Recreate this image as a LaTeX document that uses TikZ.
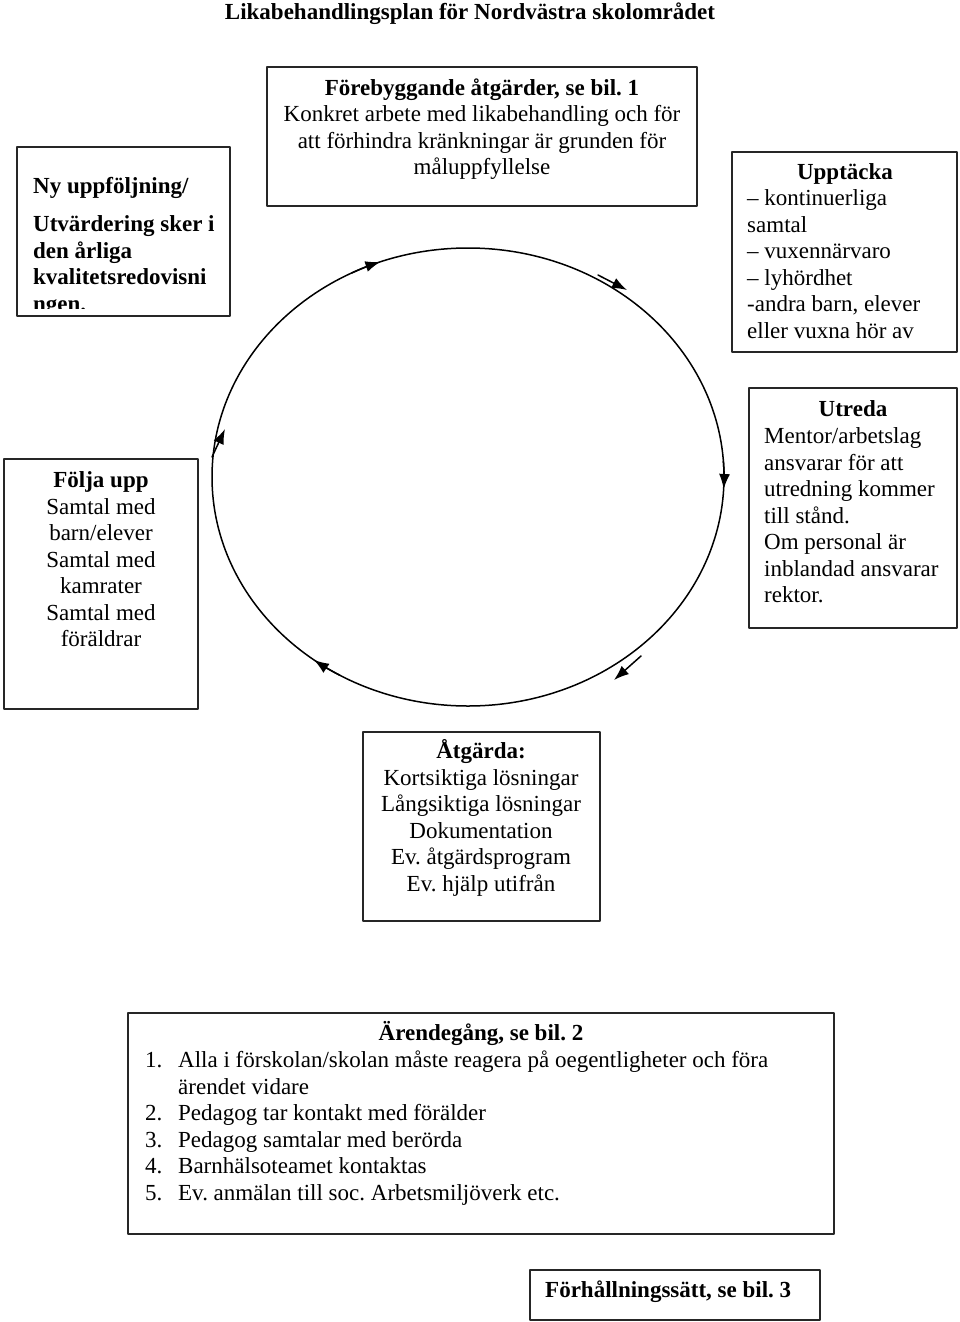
\documentclass[tikz,border=0pt]{standalone}
\usepackage{fontspec}
\setmainfont{Liberation Serif}
\usetikzlibrary{arrows.meta}
\frenchspacing
\begin{document}
\begin{tikzpicture}[x=1pt, y=-1pt, >={Latex[length=15pt,width=11pt]}, font=\fontsize{23}{26.5}\selectfont, line join=round, line cap=round,
	box/.style={draw=black!85, line width=1.6pt},
	ring/.style={line width=1.5pt},
	txt/.style={inner sep=0pt, anchor=base},
	txtl/.style={inner sep=0pt, anchor=base west, align=left},
	fet/.style={font=\fontsize{23}{26.5}\selectfont\bfseries}]
	\useasboundingbox (0,0) rectangle (960,1322);
	\path%hörn av rutorna
	(267,67) coordinate (F1) (697,206) coordinate (F2)
	(17,147) coordinate (N1) (230,316) coordinate (N2)
	(732,152) coordinate (U1) (957,352) coordinate (U2)
	(749,388) coordinate (T1) (957,628) coordinate (T2)
	(4,459) coordinate (S1) (198,709) coordinate (S2)
	(363,732) coordinate (A1) (600,921) coordinate (A2)
	(128,1013) coordinate (E1) (834,1234) coordinate (E2)
	(530,1270) coordinate (H1) (820,1320) coordinate (H2)
	(468,477) coordinate (M)
	(598,275) coordinate (P1) (627,290) coordinate (P2)
	(641,656) coordinate (Q1) (614,680) coordinate (Q2)
	(212,457) coordinate (R1) (225,429) coordinate (R2)
	;
	\foreach \a/\b in {F1/F2,N1/N2,U1/U2,T1/T2,S1/S2,A1/A2,E1/E2,H1/H2}\draw[box] (\a) rectangle (\b);
	% cirkeln med pilar
	\draw[ring] (M) ellipse [x radius=256pt, y radius=229pt];
	\foreach \g in {117,4,-120}\draw[ring,->] (M) ++(\g:256pt and 229pt) arc[start angle=\g, delta angle=-7, x radius=256pt, y radius=229pt];
	\draw[ring,->] (P1)--(P2);
	\draw[ring,->] (Q1)--(Q2);
	\draw[ring,->] (R1)--(R2);
	% texter (base = sista radens baslinje)
	\node[txt,fet] (rubrik) at (470,19.5) {Likabehandlingsplan för Nordvästra skolområdet};
	\node[txt,align=center] (forebygg) at (482,174.5) {\textbf{Förebyggande åtgärder, se bil. 1}\\Konkret arbete med likabehandling och för\\att förhindra kränkningar är grunden för\\måluppfyllelse};
	\begin{scope}
		\clip (17,147) rectangle (230,308);
		\node[txtl,fet] (nyupp) at (33,311) {Ny uppföljning/\\[12pt]Utvärdering sker i\\den årliga\\kvalitetsredovisni\\ngen.};
	\end{scope}
	\node[txt,fet] (upptacka) at (845,179.5) {Upptäcka};
	\node[txtl] (upptackatxt) at (747,338) {– kontinuerliga\\samtal\\– vuxennärvaro\\– lyhördhet\\-andra barn, elever\\eller vuxna hör av};
	\node[txt,fet] (utreda) at (853,416.5) {Utreda};
	\node[txtl] (utredatxt) at (764,602.5) {Mentor/arbetslag\\ansvarar för att\\utredning kommer\\till stånd.\\Om personal är\\inblandad ansvarar\\rektor.};
	\node[txt,align=center] (folja) at (101,646.5) {\textbf{Följa upp}\\Samtal med\\barn/elever\\Samtal med\\kamrater\\Samtal med\\föräldrar};
	\node[txt,align=center] (atgarda) at (481,891) {\textbf{Åtgärda:}\\Kortsiktiga lösningar\\Långsiktiga lösningar\\Dokumentation\\Ev. åtgärdsprogram\\Ev. hjälp utifrån};
	\node[txt,fet] (arende) at (481,1040.5) {Ärendegång, se bil. 2};
	\node[txtl] (arendetxt) at (145,1200) {\makebox[33pt][l]{1.}Alla i förskolan/skolan måste reagera på oegentligheter och föra\\\hspace*{33pt}ärendet vidare\\\makebox[33pt][l]{2.}Pedagog tar kontakt med förälder\\\makebox[33pt][l]{3.}Pedagog samtalar med berörda\\\makebox[33pt][l]{4.}Barnhälsoteamet kontaktas\\\makebox[33pt][l]{5.}Ev. anmälan till soc. Arbetsmiljöverk etc.};
	\node[txtl,fet] (forhall) at (545,1297.5) {Förhållningssätt, se bil. 3};
\end{tikzpicture}
\end{document}
